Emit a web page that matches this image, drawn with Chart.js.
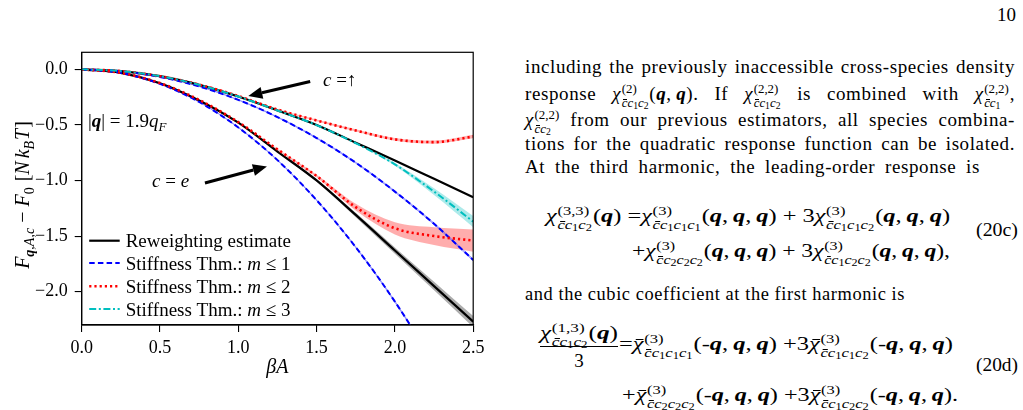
<!DOCTYPE html>
<html><head><meta charset="utf-8">
<script src="https://cdn.jsdelivr.net/npm/chart.js@4.4.0/dist/chart.umd.min.js"></script>
<style>
html,body{margin:0;padding:0;background:#fff}
body{width:1023px;height:410px;position:relative;overflow:hidden;font-family:"Liberation Serif",serif;color:#000}
#cw{position:absolute;left:0;top:0;width:500px;height:410px}
.ln{position:absolute;left:0;top:0;white-space:nowrap;font-size:19px;line-height:19px;transform-origin:0 0}
.ln.tx{letter-spacing:0.6px}
.ss{display:inline-flex;flex-direction:column;align-items:flex-start;font-size:0.68em;line-height:1.05;vertical-align:middle;margin-left:0.04em;margin-right:0.06em;letter-spacing:0}
.ss sub{font-size:0.75em;vertical-align:-0.25em;line-height:0}
.ov{position:relative;display:inline-block}
.ov::after{content:'';position:absolute;left:0.14em;right:0;top:0.24em;border-top:1px solid #000}
.bar{position:absolute;background:#000;height:1.2px}
</style></head><body>
<div id="cw"><canvas id="c" width="500" height="410"></canvas></div>
<div id="txt"></div>
<script>
// ---------------- data ----------------
const betaA = [0, 0.25, 0.5, 0.75, 1.0, 1.25, 1.5, 1.75, 2.0, 2.25, 2.5];
// c = ↑ (upper family)
const upReweight = [0, -0.016, -0.062, -0.140, -0.245, -0.370, -0.500, -0.660, -0.820, -0.985, -1.150];
const upM1       = [0, -0.017, -0.069, -0.154, -0.275, -0.430, -0.618, -0.840, -1.100, -1.390, -1.715];
const upM2       = [0, -0.016, -0.062, -0.138, -0.240, -0.362, -0.460, -0.550, -0.630, -0.655, -0.605];
const upM3       = [0, -0.016, -0.062, -0.140, -0.245, -0.370, -0.502, -0.665, -0.855, -1.100, -1.370];
// c = e (lower family)
const lowReweight = [0, -0.032, -0.125, -0.280, -0.480, -0.740, -1.000, -1.310, -1.630, -1.950, -2.270];
const lowM1       = [0, -0.033, -0.131, -0.294, -0.523, -0.817, -1.177, -1.600, -2.090, -2.650, -3.270];
const lowM2       = [0, -0.032, -0.124, -0.275, -0.475, -0.720, -0.960, -1.240, -1.430, -1.500, -1.540];
// half widths of the uncertainty bands
const upM2Err       = [0, 0, 0, 0, 0.002, 0.005, 0.008, 0.010, 0.012, 0.014, 0.016];
const upM3Err       = [0, 0, 0, 0, 0, 0, 0, 0.005, 0.012, 0.030, 0.050];
const upM1Err       = [0, 0, 0, 0.001, 0.002, 0.003, 0.004, 0.005, 0.006, 0.007, 0.008];
const lowReweightErr= [0, 0, 0, 0, 0, 0.006, 0.012, 0.020, 0.028, 0.038, 0.050];
const lowM2Err      = [0, 0, 0, 0, 0, 0.005, 0.012, 0.030, 0.055, 0.080, 0.100];
const lowM1Err      = [0, 0, 0, 0.001, 0.002, 0.003, 0.004, 0.005, 0.006, 0.007, 0.008];
const xTicks = [0, 0.5, 1.0, 1.5, 2.0, 2.5];
const yTicks = [0, -0.5, -1.0, -1.5, -2.0];
const legendLabels = ['Reweighting estimate', 'Stiffness Thm.: m ≤ 1', 'Stiffness Thm.: m ≤ 2', 'Stiffness Thm.: m ≤ 3'];

// ---------------- styles ----------------
const SER = '"Liberation Serif", serif';
const FN = (s, st) => `${st || ''} ${s}px ${SER}`;
const ST = {
  rw: {color: '#000000', dash: [], width: 2.2},
  m1: {color: '#0000ff', dash: [5.5, 3.2], width: 2},
  m2: {color: '#ff0000', dash: [2.2, 3.0], width: 2.6},
  m3: {color: '#00bfbf', dash: [7, 2.6, 2, 2.6], width: 2}
};
const pts = a => betaA.map((x, i) => ({x, y: a[i]}));
const ds = [];
function band(center, hw, fillColor, edge) {
  const lo = center.map((v, i) => v - hw[i]), hi = center.map((v, i) => v + hw[i]);
  const i = ds.length;
  const base = {pointRadius: 0, cubicInterpolationMode: 'monotone', order: 20,
    borderColor: edge || 'rgba(0,0,0,0)', borderWidth: edge ? 1 : 0};
  ds.push(Object.assign({data: pts(lo), fill: false}, base));
  ds.push(Object.assign({data: pts(hi), fill: i, backgroundColor: fillColor}, base));
}
function line(vals, st, order) {
  ds.push({data: pts(vals), borderColor: st.color, borderWidth: st.width, borderDash: st.dash,
    pointRadius: 0, fill: false, order, cubicInterpolationMode: 'monotone', borderCapStyle: 'butt'});
}
band(upM1, upM1Err, 'rgba(0,0,255,0.25)', 'rgba(90,90,255,0.5)');
band(lowM1, lowM1Err, 'rgba(0,0,255,0.25)', 'rgba(90,90,255,0.5)');
band(lowReweight, lowReweightErr, 'rgba(0,0,0,0.32)');
band(upM2, upM2Err, 'rgba(255,0,0,0.3)');
band(lowM2, lowM2Err, 'rgba(255,0,0,0.32)');
band(upM3, upM3Err, 'rgba(0,191,191,0.32)');
line(upReweight, ST.rw, 5);
line(lowReweight, ST.rw, 5);
line(upM1, ST.m1, 4);
line(lowM1, ST.m1, 4);
line(upM2, ST.m2, 3);
line(lowM2, ST.m2, 3);
line(upM3, ST.m3, 2);

function rich(ctx, x, y, parts, align) {
  let w = 0;
  parts.forEach(p => { ctx.font = p.f; p.w = ctx.measureText(p.t).width; w += p.w + (p.g || 0); });
  let cx = align === 'center' ? x - w / 2 : x;
  ctx.textAlign = 'left'; ctx.textBaseline = 'alphabetic'; ctx.fillStyle = '#000';
  parts.forEach(p => { ctx.font = p.f; ctx.fillText(p.t, cx, y + (p.dy || 0)); cx += p.w + (p.g || 0); });
}
function arrow(ctx, x1, y1, x2, y2) {
  const L = Math.hypot(x2 - x1, y2 - y1), ux = (x2 - x1) / L, uy = (y2 - y1) / L;
  const hl = 14, hw = 6;
  ctx.strokeStyle = '#000'; ctx.lineWidth = 3.2; ctx.setLineDash([]);
  ctx.beginPath(); ctx.moveTo(x1, y1); ctx.lineTo(x2 - ux * hl, y2 - uy * hl); ctx.stroke();
  ctx.fillStyle = '#000'; ctx.beginPath();
  ctx.moveTo(x2, y2);
  ctx.lineTo(x2 - ux * hl - uy * hw, y2 - uy * hl + ux * hw);
  ctx.lineTo(x2 - ux * hl + uy * hw, y2 - uy * hl - ux * hw);
  ctx.closePath(); ctx.fill();
}

const deco = {
  id: 'deco',
  afterDraw(chart) {
    const ctx = chart.ctx, a = chart.chartArea, xs = chart.scales.x, ys = chart.scales.y;
    const P = (x, y) => [xs.getPixelForValue(x), ys.getPixelForValue(y)];
    ctx.save();
    ctx.strokeStyle = '#000'; ctx.lineWidth = 1.2; ctx.setLineDash([]);
    ctx.strokeRect(a.left, a.top, a.right - a.left, a.bottom - a.top);
    let p = P(1.541, -0.150);
    rich(ctx, p[0], p[1], [{t: 'c', f: FN(19, 'italic')}, {t: ' =↑', f: FN(19)}]);
    let t = P(1.459, -0.110), h = P(1.064, -0.240);
    arrow(ctx, t[0], t[1], h[0], h[1]);
    p = P(0.449, -1.056);
    rich(ctx, p[0], p[1], [{t: 'c', f: FN(19, 'italic')}, {t: ' = ', f: FN(19)}, {t: 'e', f: FN(19, 'italic')}]);
    t = P(0.787, -1.022); h = P(1.183, -0.874);
    arrow(ctx, t[0], t[1], h[0], h[1]);
    p = P(0.040, -0.519);
    rich(ctx, p[0], p[1], [{t: '|', f: FN(19)}, {t: 'q', f: FN(19, 'italic bold')}, {t: '| = 1.9', f: FN(19)},
      {t: 'q', f: FN(19, 'italic')}, {t: 'F', f: FN(13, 'italic'), dy: 4}]);
    const keys = ['rw', 'm1', 'm2', 'm3'];
    const rowOff = [84.3, 62, 38.7, 16];
    keys.forEach((k, i) => {
      const st = ST[k], y = a.bottom - rowOff[i];
      ctx.strokeStyle = st.color; ctx.lineWidth = st.width; ctx.setLineDash(st.dash); ctx.lineCap = 'butt';
      ctx.beginPath(); ctx.moveTo(a.left + 7.5, y); ctx.lineTo(a.left + 38, y); ctx.stroke();
      ctx.setLineDash([]);
      const lab = legendLabels[i];
      const j = lab.indexOf(': m');
      const parts = j < 0 ? [{t: lab, f: FN(19)}] :
        [{t: lab.slice(0, j + 2), f: FN(19)}, {t: 'm', f: FN(19, 'italic')}, {t: lab.slice(j + 3), f: FN(19)}];
      rich(ctx, a.left + 44, y + 6.5, parts);
    });
    rich(ctx, (a.left + a.right) / 2, a.bottom + 48, [{t: 'βA', f: FN(20, 'italic')}], 'center');
    ctx.translate(29, 195); ctx.rotate(-Math.PI / 2);
    rich(ctx, 0, 0, [
      {t: 'F', f: FN(20, 'italic')}, {t: 'q', f: FN(14, 'italic bold'), dy: 5}, {t: ',', f: FN(14), dy: 5},
      {t: 'A', f: FN(14, 'italic'), dy: 5}, {t: ',', f: FN(14), dy: 5}, {t: 'c', f: FN(14, 'italic'), dy: 5, g: 5},
      {t: '−', f: FN(20), g: 5}, {t: 'F', f: FN(20, 'italic')}, {t: '0', f: FN(14), dy: 5, g: 6},
      {t: '[', f: FN(20)}, {t: 'N', f: FN(20, 'italic'), g: 3}, {t: 'k', f: FN(20, 'italic')},
      {t: 'B', f: FN(14, 'italic'), dy: 5, g: 1}, {t: 'T', f: FN(20, 'italic'), g: 1}, {t: ']', f: FN(20)}
    ], 'center');
    ctx.restore();
  }
};

Chart.defaults.font.family = SER;
new Chart(document.getElementById('c'), {
  type: 'line',
  data: {datasets: ds},
  options: {
    responsive: false, animation: false, devicePixelRatio: 1,
    layout: {padding: {left: 0, right: 26.8, top: 52.3, bottom: 0}},
    plugins: {legend: {display: false}, tooltip: {enabled: false}, colors: {enabled: false}},
    scales: {
      x: {type: 'linear', min: 0, max: 2.5,
        afterFit: s => { s.height = 85; },
        afterBuildTicks: s => { s.ticks = xTicks.map(v => ({value: v})); },
        grid: {display: true, drawOnChartArea: false, drawTicks: true, tickLength: 7, color: '#000', lineWidth: 1.1},
        border: {display: true, color: '#000', width: 1.2},
        ticks: {color: '#000', font: {size: 18, family: SER}, padding: 5, maxRotation: 0,
          callback: v => (v < 0 ? '−' : '') + Math.abs(v).toFixed(1)}},
      y: {type: 'linear', min: -2.3, max: 0.153,
        afterFit: s => { s.width = 81.7; },
        afterBuildTicks: s => { s.ticks = yTicks.map(v => ({value: v})); },
        grid: {display: true, drawOnChartArea: false, drawTicks: true, tickLength: 7, color: '#000', lineWidth: 1.1},
        border: {display: true, color: '#000', width: 1.2},
        ticks: {color: '#000', font: {size: 18, family: SER}, padding: 7,
          callback: v => (v < 0 ? '−' : '') + Math.abs(v).toFixed(1)}}
    }
  },
  plugins: [deco]
});

// ---------------- page text ----------------
const TS = '\u2009';
const Q = '<b><i>q</i></b>';
function S(code) {
  return code.split('').map(ch => ch === 'b' ? '<i class="ov">c</i>' : '<i>c</i><sub>' + ch + '</sub>').join('');
}
function chi(sup, sub, bar) {
  return (bar ? '<i class="ov">χ</i>' : '<i>χ</i>') + '<span class="ss"><span>' + sup + '</span><span>' + sub + '</span></span>';
}
const qqq = `(${Q},${TS}${Q},${TS}${Q})`, mqqq = `(-${Q},${TS}${Q},${TS}${Q})`;
const lines = [
  {x: 1016, b: 21, al: 'right', h: '10'},
  {x: 525, b: 73, w: 490, m: 'j', h: 'including the previously inaccessible cross-species density'},
  {x: 525, b: 100, w: 490, m: 'j', h: `response ${chi('(2)', S('b12'))}(${Q},${TS}${Q}). If ${chi('(2,2)', S('b12'))} is combined with ${chi('(2,2)', S('b1'))},`},
  {x: 525, b: 126, w: 490, m: 'j', h: `${chi('(2,2)', S('b2'))} from our previous estimators, all species combina-`},
  {x: 525, b: 150, w: 490, m: 'j', h: 'tions for the quadratic response function can be isolated.'},
  {x: 525, b: 173, w: 455, m: 'j', h: 'At the third harmonic, the leading-order response is'},
  {x: 546, b: 222, w: 404, h: `${chi('(3,3)', S('b12'))}(${Q}) =${chi('(3)', S('b111'))}${qqq} + 3${chi('(3)', S('b112'))}${qqq}`},
  {x: 632, b: 257, w: 318, h: `+${chi('(3)', S('b222'))}${qqq} + 3${chi('(3)', S('b122'))}${qqq},`},
  {x: 976, b: 236, w: 42, h: '(20c)'},
  {x: 525, b: 300, w: 380, m: 'j', h: 'and the cubic coefficient at the first harmonic is'},
  {x: 540, b: 339, w: 78, h: `${chi('(1,3)', S('b12'))}(${Q})`},
  {cx: 579, b: 367, h: '3'},
  {x: 619, b: 350, w: 334, h: `=${chi('(3)', S('b111'), 1)}${mqqq} +3${chi('(3)', S('b112'), 1)}${mqqq}`},
  {x: 976, b: 371, w: 42, h: '(20d)'},
  {x: 622, b: 401, w: 336, h: `+${chi('(3)', S('b222'), 1)}${mqqq} +3${chi('(3)', S('b122'), 1)}${mqqq}.`}
];
const box = document.getElementById('txt');
lines.forEach(L => {
  const el = document.createElement('div');
  el.className = 'ln' + (L.m === 'j' ? ' tx' : ''); el.innerHTML = L.h; box.appendChild(el);
  const mk = document.createElement('span');
  mk.style.cssText = 'display:inline-block;width:0;height:0;vertical-align:baseline';
  el.appendChild(mk);
  const r0 = el.getBoundingClientRect(), mb = mk.getBoundingClientRect().top;
  el.style.top = (L.b - (mb - r0.top)) + 'px';
  const nat = r0.width;
  if (L.w) {
    if (L.m === 'j' && nat < L.w) {
      const n = (el.textContent.match(/ /g) || []).length;
      if (n) el.style.wordSpacing = ((L.w - nat) / n) + 'px';
    } else if (Math.abs(nat - L.w) > 0.5) {
      el.style.transform = 'scaleX(' + (L.w / nat) + ')';
    }
    el.style.left = L.x + 'px';
  } else if (L.cx !== undefined) {
    el.style.left = (L.cx - nat / 2) + 'px';
  } else if (L.al === 'right') {
    el.style.left = (L.x - nat) + 'px';
  } else {
    el.style.left = L.x + 'px';
  }
});
const bar = document.createElement('div');
bar.className = 'bar'; bar.style.left = '540px'; bar.style.top = '346px'; bar.style.width = '78px';
box.appendChild(bar);
</script>
</body></html>
